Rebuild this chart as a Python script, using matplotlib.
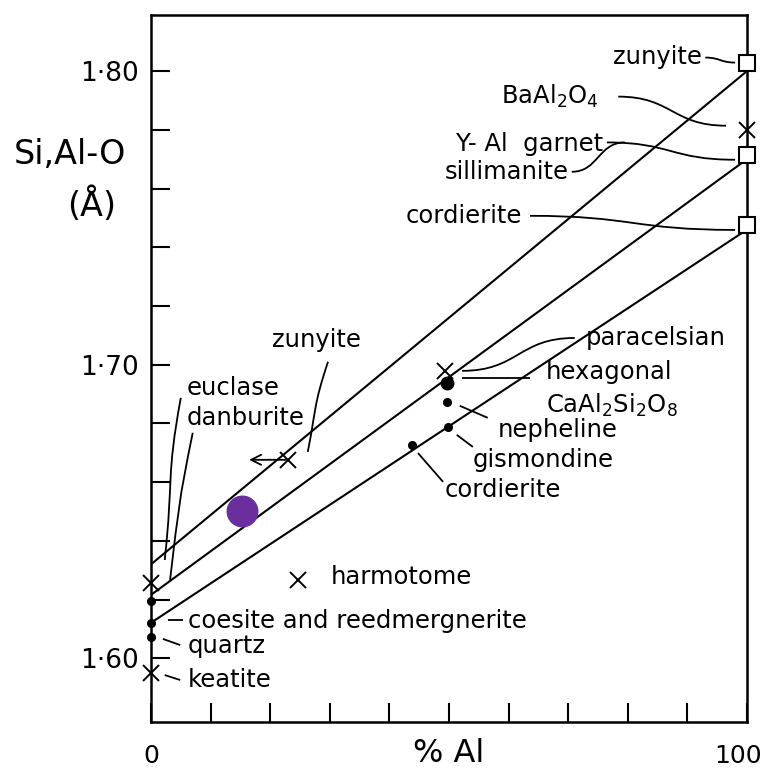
import matplotlib.pyplot as plt
import numpy as np
from matplotlib.path import Path
from matplotlib.patches import PathPatch
from matplotlib.transforms import ScaledTranslation

# --- data ---
x_ends = [0, 100]
line_top = [1.632, 1.800]
line_mid = [1.6216, 1.770]
line_bot = [1.6121, 1.746]

square_x = [100, 100, 100]
square_y = [1.8027, 1.7714, 1.7475]

cross_x = [100, 0, 0, 23.0, 24.7, 49.3]
cross_y = [1.7799, 1.6255, 1.5949, 1.6676, 1.6267, 1.6977]

dot_x = [0, 0, 0, 49.6, 49.9, 43.8]
dot_y = [1.6195, 1.6121, 1.6074, 1.6872, 1.6789, 1.6727]

big_dot_x = [49.6]
big_dot_y = [1.6936]

purple_x = [15.3]
purple_y = [1.6503]

y_ticks = np.round(np.arange(1.60, 1.801, 0.02), 2)
y_ticklabels = ['1·60', '', '', '', '', '1·70', '', '', '', '', '1·80']
x_ticks = list(range(0, 101, 10))
x_ticklabels = ['0'] + [''] * 9 + ['100']

# label text, x, y, horizontal alignment
labels = [
    ('zunyite', 92.4, 1.8049, 'right'),
    ('BaAl$_2$O$_4$', 75.2, 1.7913, 'right'),
    ('Y- Al  garnet', 75.8, 1.7750, 'right'),
    ('sillimanite', 70.0, 1.7657, 'right'),
    ('cordierite', 62.2, 1.7507, 'right'),
    ('paracelsian', 73.0, 1.7091, 'left'),
    ('hexagonal', 66.3, 1.6975, 'left'),
    ('CaAl$_2$Si$_2$O$_8$', 66.3, 1.6863, 'left'),
    ('nepheline', 58.1, 1.6778, 'left'),
    ('gismondine', 54.0, 1.6676, 'left'),
    ('cordierite', 49.2, 1.6573, 'left'),
    ('zunyite', 20.3, 1.7085, 'left'),
    ('euclase', 6.0, 1.6921, 'left'),
    ('danburite', 6.0, 1.6819, 'left'),
    ('harmotome', 30.2, 1.6277, 'left'),
    ('coesite and reedmergnerite', 6.2, 1.6127, 'left'),
    ('quartz', 6.2, 1.6042, 'left'),
    ('keatite', 6.2, 1.5926, 'left'),
]

# leader lines: start, end, shape ('h' S-curve, 'v' S-curve, 's' straight)
leaders = [
    ((93.0, 1.8046), (98.0, 1.8029), 'h'),
    ((78.4, 1.7913), (96.5, 1.7814), 'h'),
    ((76.5, 1.7757), (98.0, 1.7698), 'h'),
    ((70.6, 1.7657), (79.5, 1.7757), 'h'),
    ((63.6, 1.7507), (98.0, 1.7459), 'h'),
    ((71.1, 1.7091), (52.2, 1.6979), 'h'),
    ((63.6, 1.6955), (52.2, 1.6955), 's'),
    ((56.5, 1.6819), (51.8, 1.6860), 's'),
    ((54.0, 1.6720), (51.3, 1.6761), 's'),
    ((49.0, 1.6601), (44.8, 1.6699), 's'),
    ((29.7, 1.7010), (26.3, 1.6703), 'v'),
    ((5.0, 1.6887), (2.3, 1.6335), 'v'),
    ((7.0, 1.6768), (3.2, 1.6267), 'v'),
    ((2.9, 1.6130), (5.4, 1.6130), 's'),
    ((2.0, 1.6066), (4.9, 1.6045), 's'),
    ((2.3, 1.5943), (4.9, 1.5926), 's'),
]

plt.rcParams['font.family'] = ['DejaVu Sans']
W, H = 767, 769
fig = plt.figure(figsize=(W / 100, H / 100), dpi=100)
ax = fig.add_axes([151 / W, 1 - 722 / H, (747 - 151) / W, (722 - 15) / H])
ax.set_xlim(0, 100)
ax.set_ylim(1.5783, 1.8191)

lw = 1.5
for yy in (line_top, line_mid, line_bot):
    ax.plot(x_ends, yy, color='black', linewidth=lw)

ax.plot(square_x, square_y, 's', ms=11, mfc='white', mec='black', mew=1.5, clip_on=False, zorder=4)
ax.plot(cross_x, cross_y, 'x', ms=12, color='black', mew=1.4, clip_on=False, zorder=4)
ax.plot(dot_x, dot_y, 'o', ms=5.5, color='black', clip_on=False, zorder=4)
ax.plot(big_dot_x, big_dot_y, 'o', ms=9, color='black', clip_on=False, zorder=4)
ax.plot(purple_x, purple_y, 'o', ms=22, color='#6b2e9e', zorder=5)

# arrow from the zunyite cross
ax.annotate('', xy=(16.0, 1.6676), xytext=(23.0, 1.6676),
            arrowprops=dict(arrowstyle='->', color='black', lw=1.3, mutation_scale=18))

for txt, x, y, ha in labels:
    ax.text(x, y, txt, ha=ha, va='center', fontsize=17.5)

for (x0, y0), (x1, y1), kind in leaders:
    if kind == 'h':
        xm = (x0 + x1) / 2
        verts = [(x0, y0), (xm, y0), (xm, y1), (x1, y1)]
        codes = [Path.MOVETO, Path.CURVE4, Path.CURVE4, Path.CURVE4]
    elif kind == 'v':
        ym = (y0 + y1) / 2
        verts = [(x0, y0), (x0 - 2.5, ym), (x1 + 1.5, ym), (x1, y1)]
        codes = [Path.MOVETO, Path.CURVE4, Path.CURVE4, Path.CURVE4]
    else:
        verts = [(x0, y0), (x1, y1)]
        codes = [Path.MOVETO, Path.LINETO]
    ax.add_patch(PathPatch(Path(verts, codes), fill=False, lw=1.3, ec='black', clip_on=False))

ax.set_yticks(y_ticks)
ax.set_yticklabels(y_ticklabels, fontsize=19)
ax.set_xticks(x_ticks)
ax.set_xticklabels(x_ticklabels, fontsize=18)
ax.tick_params(direction='in', length=14, width=1.5, pad=9)
ax.tick_params(axis='x', pad=16)
# the "100" sits slightly left of the corner
last = ax.get_xticklabels()[-1]
last.set_transform(last.get_transform() + ScaledTranslation(-9 / 100, 0, fig.dpi_scale_trans))
for s in ax.spines.values():
    s.set_linewidth(1.8)

fig.text(70 / W, 1 - 155 / H, 'Si,Al-O', ha='center', va='center', fontsize=24)
fig.text(92 / W, 1 - 205 / H, '(Å)', ha='center', va='center', fontsize=24)
fig.text(449 / W, 1 - 754 / H, '% Al', ha='center', va='center', fontsize=23)

fig.savefig('out.png', dpi=100)
